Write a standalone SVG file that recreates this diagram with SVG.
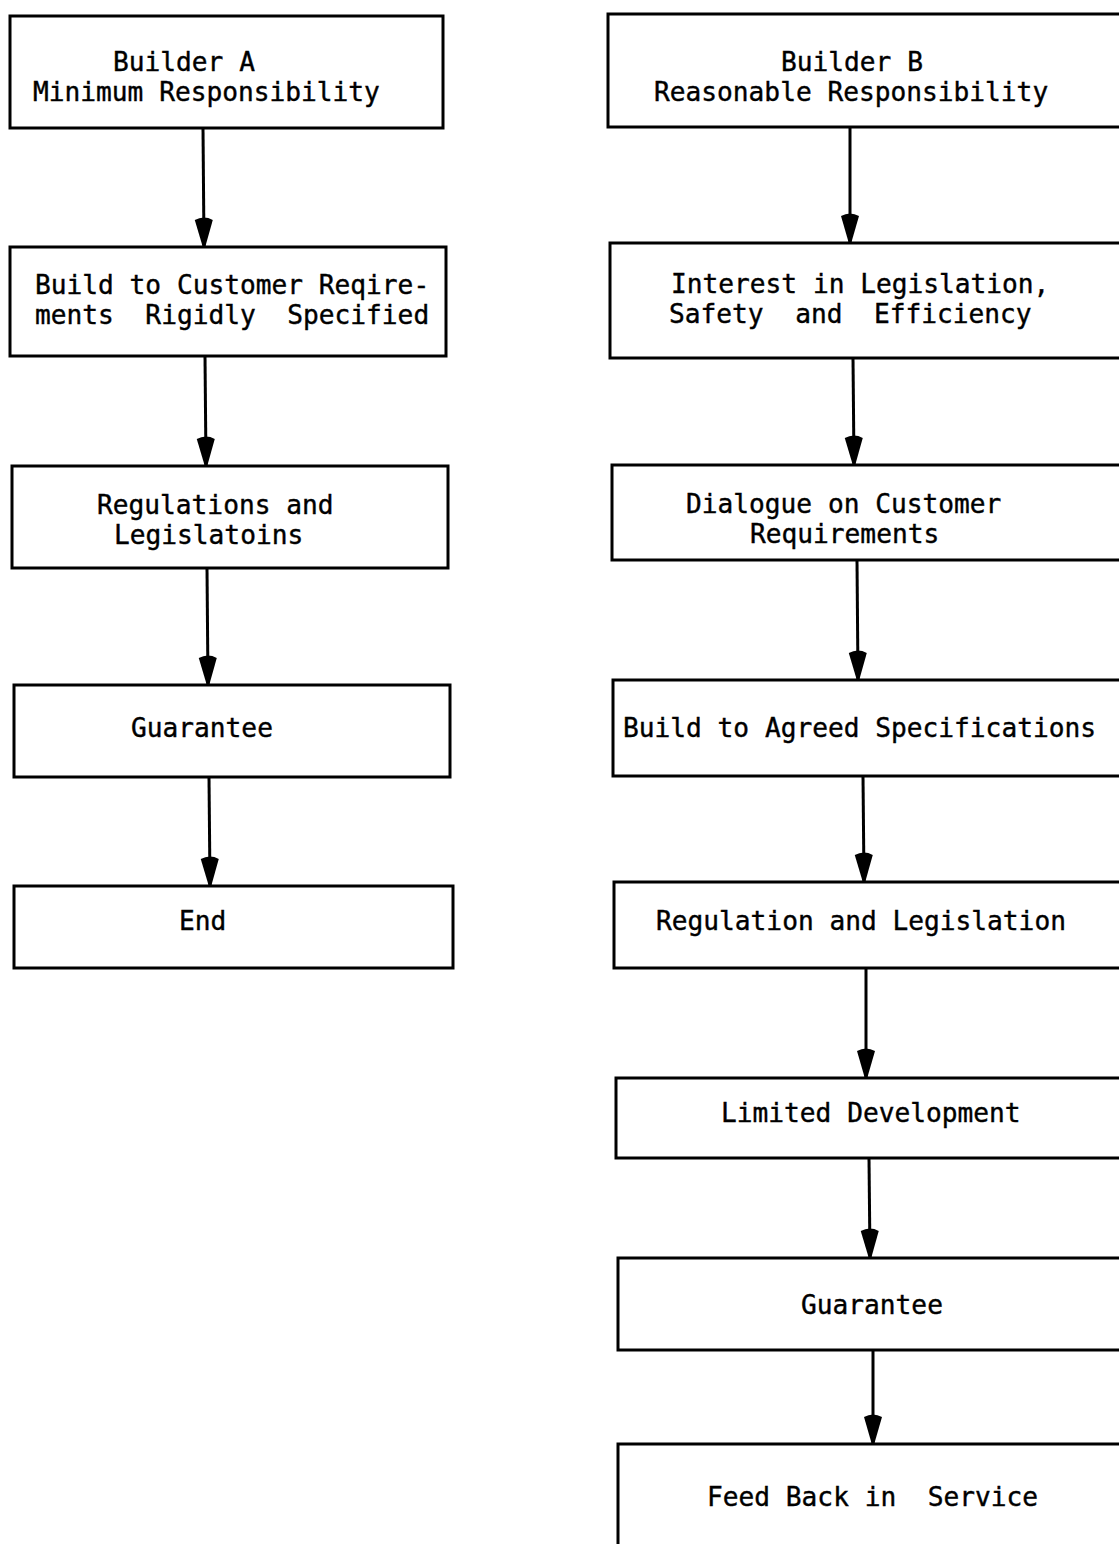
<svg xmlns="http://www.w3.org/2000/svg" width="1119" height="1544" viewBox="0 0 1119 1544">
<style>
.box{fill:#fff;stroke:#000;stroke-width:3}
.t{font-family:"DejaVu Sans Mono","Liberation Mono",monospace;font-size:26.2px;fill:#000;stroke:#000;stroke-width:0.4;white-space:pre}
.c{stroke:#000;stroke-width:3;fill:none}
</style>
<defs>
<marker id="ah" markerUnits="userSpaceOnUse" markerWidth="30" markerHeight="22" viewBox="0 0 30 22" refX="29" refY="11" orient="auto">
<path d="M3,2 Q-2,11 3,20 L29,12.5 L29,9.5 Z" fill="#000"/>
</marker>
</defs>
<rect width="1119" height="1544" fill="#fff"/>
<g id="connectors">
<line class="c" x1="203" y1="128" x2="204" y2="246" marker-end="url(#ah)"/>
<line class="c" x1="205" y1="356" x2="206" y2="465" marker-end="url(#ah)"/>
<line class="c" x1="207" y1="568" x2="208" y2="684" marker-end="url(#ah)"/>
<line class="c" x1="209" y1="777" x2="210" y2="885" marker-end="url(#ah)"/>
<line class="c" x1="850" y1="127" x2="850" y2="242" marker-end="url(#ah)"/>
<line class="c" x1="853" y1="358" x2="854" y2="464" marker-end="url(#ah)"/>
<line class="c" x1="857" y1="560" x2="858" y2="679" marker-end="url(#ah)"/>
<line class="c" x1="863" y1="776" x2="864" y2="881" marker-end="url(#ah)"/>
<line class="c" x1="866" y1="968" x2="866" y2="1077" marker-end="url(#ah)"/>
<line class="c" x1="869" y1="1158" x2="870" y2="1257" marker-end="url(#ah)"/>
<line class="c" x1="873" y1="1350" x2="873" y2="1443" marker-end="url(#ah)"/>
</g>
<g id="a1"><rect class="box" x="10" y="16" width="433" height="112"/><text class="t" x="113" y="71">Builder A</text><text class="t" x="33" y="101">Minimum Responsibility</text></g>
<g id="a2"><rect class="box" x="10" y="247" width="436" height="109"/><text class="t" x="35" y="294">Build to Customer Reqire-</text><text class="t" x="35" y="324">ments  Rigidly  Specified</text></g>
<g id="a3"><rect class="box" x="12" y="466" width="436" height="102"/><text class="t" x="97" y="514">Regulations and</text><text class="t" x="114" y="544">Legislatoins</text></g>
<g id="a4"><rect class="box" x="14" y="685" width="436" height="92"/><text class="t" x="131" y="737">Guarantee</text></g>
<g id="a5"><rect class="box" x="14" y="886" width="439" height="82"/><text class="t" x="179" y="930">End</text></g>
<g id="b1"><rect class="box" x="608" y="14" width="515" height="113"/><text class="t" x="781" y="71">Builder B</text><text class="t" x="654" y="101">Reasonable Responsibility</text></g>
<g id="b2"><rect class="box" x="610" y="243" width="513" height="115"/><text class="t" x="671" y="293">Interest in Legislation,</text><text class="t" x="669" y="323">Safety  and  Efficiency</text></g>
<g id="b3"><rect class="box" x="612" y="465" width="511" height="95"/><text class="t" x="686" y="513">Dialogue on Customer</text><text class="t" x="750" y="543">Requirements</text></g>
<g id="b4"><rect class="box" x="613" y="680" width="510" height="96"/><text class="t" x="623" y="737">Build to Agreed Specifications</text></g>
<g id="b5"><rect class="box" x="614" y="882" width="509" height="86"/><text class="t" x="656" y="930">Regulation and Legislation</text></g>
<g id="b6"><rect class="box" x="616" y="1078" width="507" height="80"/><text class="t" x="721" y="1122">Limited Development</text></g>
<g id="b7"><rect class="box" x="618" y="1258" width="505" height="92"/><text class="t" x="801" y="1314">Guarantee</text></g>
<g id="b8"><rect class="box" x="618" y="1444" width="505" height="110"/><text class="t" x="707" y="1506">Feed Back in  Service</text></g>
</svg>
